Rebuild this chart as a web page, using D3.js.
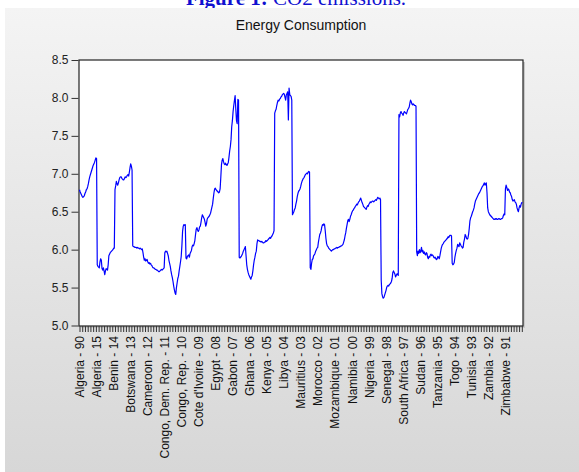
<!DOCTYPE html>
<html>
<head>
<meta charset="utf-8">
<script src="https://cdn.jsdelivr.net/npm/d3@7/dist/d3.min.js"></script>
<style>
  html, body { margin: 0; padding: 0; background: #ffffff; overflow: hidden; }
  svg { display: block; }
</style>
</head>
<body>
<svg id="chart" width="579" height="472"></svg>
<script>
// Panel of energy consumption (log scale), 25 countries x 1990-2015, stacked end to end.
const countries = ["Algeria", "Benin", "Botswana", "Cameroon", "Congo, Dem. Rep.", "Congo, Rep.",
  "Cote d'Ivoire", "Egypt", "Gabon", "Ghana", "Kenya", "Libya", "Mauritius", "Morocco",
  "Mozambique", "Namibia", "Nigeria", "Senegal", "South Africa", "Sudan", "Tanzania", "Togo",
  "Tunisia", "Zambia", "Zimbabwe"];
const years = d3.range(1990, 2016);

const ALGERIA      = [6.79,6.76,6.74,6.72,6.70,6.69,6.70,6.71,6.74,6.76,6.79,6.80,6.83,6.87,6.92,6.96,6.99,7.02,7.05,7.08,7.11,7.13,7.15,7.18,7.21,7.20];
const BENIN        = [5.80,5.78,5.77,5.76,5.84,5.88,5.86,5.75,5.73,5.76,5.72,5.67,5.72,5.75,5.74,5.73,5.80,5.92,5.94,5.96,5.97,5.98,5.99,6.00,6.02,6.02];
const BOTSWANA     = [6.79,6.84,6.90,6.87,6.85,6.88,6.92,6.95,6.96,6.96,6.94,6.93,6.92,6.92,6.94,6.96,6.95,6.96,6.98,6.99,6.97,7.02,7.08,7.13,7.10,7.05];
const CAMEROON     = [6.05,6.04,6.04,6.03,6.03,6.03,6.02,6.03,6.02,6.02,6.01,6.02,6.01,6.00,6.01,5.96,5.90,5.86,5.88,5.85,5.86,5.87,5.84,5.82,5.83,5.81];
const CONGO_DR     = [5.82,5.80,5.79,5.77,5.76,5.76,5.75,5.74,5.74,5.73,5.73,5.72,5.71,5.71,5.72,5.73,5.74,5.73,5.74,5.75,5.76,5.96,5.98,5.97,5.98,5.95];
const CONGO_REP    = [5.92,5.86,5.82,5.78,5.72,5.67,5.63,5.58,5.52,5.47,5.43,5.41,5.50,5.56,5.62,5.65,5.72,5.78,5.84,5.91,6.05,6.24,6.31,6.33,6.32,6.33];
const COTE_DIVOIRE = [5.89,5.88,5.91,5.92,5.93,5.90,5.95,5.97,5.99,6.04,6.06,6.05,6.08,6.12,6.20,6.27,6.29,6.26,6.24,6.26,6.30,6.31,6.36,6.42,6.46,6.44];
const EGYPT        = [6.42,6.40,6.36,6.31,6.34,6.40,6.42,6.43,6.44,6.46,6.48,6.52,6.56,6.60,6.68,6.75,6.80,6.81,6.79,6.78,6.77,6.76,6.75,6.76,6.80,6.95];
const GABON        = [7.12,7.18,7.20,7.16,7.13,7.12,7.14,7.12,7.11,7.13,7.15,7.22,7.30,7.36,7.45,7.62,7.70,7.82,7.90,7.97,8.03,7.85,7.70,7.66,7.98,7.97];
const GHANA        = [5.90,5.89,5.90,5.91,5.93,5.95,5.98,6.00,6.02,6.04,5.92,5.80,5.74,5.70,5.67,5.65,5.63,5.61,5.64,5.66,5.72,5.80,5.86,5.90,5.95,5.98];
const KENYA        = [6.08,6.13,6.12,6.12,6.11,6.11,6.10,6.11,6.10,6.09,6.09,6.10,6.10,6.12,6.11,6.12,6.13,6.14,6.15,6.16,6.15,6.17,6.18,6.20,6.22,6.25];
const LIBYA        = [7.80,7.83,7.85,7.90,7.94,7.97,7.96,7.98,7.99,8.01,8.02,8.04,8.05,8.06,8.05,8.01,7.97,8.04,8.06,8.08,7.71,8.13,8.05,8.03,8.02,7.97];
const MAURITIUS    = [6.46,6.48,6.50,6.53,6.55,6.60,6.64,6.70,6.74,6.77,6.78,6.80,6.83,6.87,6.90,6.92,6.94,6.95,6.97,6.99,7.00,7.01,7.00,7.02,7.03,7.02];
const MOROCCO      = [5.76,5.74,5.82,5.87,5.88,5.92,5.93,5.95,5.98,6.00,6.02,6.03,6.10,6.15,6.20,6.22,6.25,6.30,6.33,6.32,6.34,6.33,6.25,6.15,6.08,6.05];
const MOZAMBIQUE   = [6.04,6.02,6.01,6.00,5.99,5.98,5.99,6.00,6.00,6.01,6.01,6.02,6.02,6.03,6.02,6.03,6.03,6.04,6.04,6.05,6.05,6.06,6.07,6.10,6.13,6.18];
const NAMIBIA      = [6.22,6.28,6.33,6.38,6.40,6.37,6.40,6.44,6.46,6.49,6.51,6.52,6.54,6.55,6.57,6.58,6.60,6.59,6.61,6.63,6.64,6.66,6.68,6.65,6.62,6.60];
const NIGERIA      = [6.57,6.56,6.55,6.54,6.53,6.56,6.58,6.57,6.60,6.61,6.63,6.62,6.63,6.64,6.64,6.63,6.64,6.65,6.66,6.65,6.67,6.69,6.68,6.67,6.68,6.66];
const SENEGAL      = [5.60,5.42,5.38,5.36,5.37,5.40,5.43,5.46,5.50,5.52,5.53,5.52,5.54,5.55,5.56,5.58,5.62,5.70,5.72,5.70,5.68,5.64,5.66,5.68,5.68,5.66];
const SOUTH_AFRICA = [7.78,7.75,7.80,7.82,7.80,7.79,7.77,7.80,7.82,7.81,7.80,7.79,7.82,7.85,7.86,7.88,7.93,7.97,7.95,7.92,7.91,7.92,7.91,7.90,7.90,7.89];
const SUDAN        = [5.97,5.92,5.98,5.95,6.00,5.96,5.98,6.03,5.97,5.99,5.95,5.97,5.94,5.93,5.96,5.95,5.90,5.88,5.91,5.90,5.93,5.94,5.92,5.93,5.92,5.90];
const TANZANIA     = [5.89,5.90,5.88,5.87,5.88,5.91,5.90,5.88,5.92,5.97,6.02,6.05,6.07,6.08,6.10,6.11,6.12,6.13,6.14,6.15,6.17,6.16,6.18,6.19,6.19,6.18];
const TOGO         = [5.82,5.80,5.81,5.83,5.90,5.95,5.99,6.02,6.07,6.05,6.04,6.09,6.07,6.05,6.04,6.02,6.03,6.10,6.14,6.20,6.18,6.15,6.14,6.15,6.20,6.28];
const TUNISIA      = [6.38,6.42,6.44,6.47,6.50,6.52,6.55,6.60,6.64,6.66,6.68,6.70,6.72,6.74,6.75,6.77,6.79,6.81,6.83,6.84,6.86,6.88,6.85,6.87,6.88,6.75];
const ZAMBIA       = [6.55,6.50,6.48,6.46,6.45,6.44,6.43,6.42,6.41,6.40,6.40,6.41,6.40,6.41,6.40,6.40,6.41,6.41,6.40,6.40,6.41,6.41,6.42,6.45,6.47,6.46];
const ZIMBABWE     = [6.80,6.85,6.82,6.78,6.80,6.79,6.76,6.75,6.72,6.70,6.66,6.64,6.65,6.66,6.63,6.62,6.60,6.55,6.52,6.50,6.55,6.58,6.56,6.60,6.62,6.62];

const seriesByCountry = [ALGERIA, BENIN, BOTSWANA, CAMEROON, CONGO_DR, CONGO_REP, COTE_DIVOIRE,
  EGYPT, GABON, GHANA, KENYA, LIBYA, MAURITIUS, MOROCCO, MOZAMBIQUE, NAMIBIA, NIGERIA, SENEGAL,
  SOUTH_AFRICA, SUDAN, TANZANIA, TOGO, TUNISIA, ZAMBIA, ZIMBABWE];

const yTicks = [5.0, 5.5, 6.0, 6.5, 7.0, 7.5, 8.0, 8.5];
const labelStep = 25;   // one labelled observation every 25
const tickStep = 4;     // minor ticks along the bottom edge

// Stacked panel observations: "Country - yy"
const obs = [];
countries.forEach((c, ci) => {
  years.forEach((yr, yi) => {
    obs.push({ i: obs.length, label: c + " - " + String(yr).slice(2), value: seriesByCountry[ci][yi] });
  });
});

const svg = d3.select("#chart");
const W = 579, H = 472;
const frame = { left: 79, right: 523, top: 60, bottom: 326 };

// background panel with a soft vertical gradient
const defs = svg.append("defs");
const grad = defs.append("linearGradient").attr("id", "bg").attr("x1", 0).attr("y1", 0).attr("x2", 0).attr("y2", 1);
grad.append("stop").attr("offset", "0%").attr("stop-color", "#f4f4f4");
grad.append("stop").attr("offset", "100%").attr("stop-color", "#d7d7d7");

// caption above the panel, its upper part runs off the top edge
const cap = svg.append("text")
  .attr("x", 296).attr("y", 5)
  .attr("text-anchor", "middle")
  .attr("font-family", "'Liberation Serif', 'Times New Roman', serif")
  .attr("font-size", 21)
  .attr("fill", "#1010d0");
cap.append("tspan").attr("font-weight", "bold").text("Figure 1:");
cap.append("tspan").text(" CO2 emissions.");

svg.append("rect").attr("x", 5).attr("y", 8).attr("width", W - 5).attr("height", H - 8).attr("fill", "url(#bg)");

// title
svg.append("text")
  .attr("x", (frame.left + frame.right) / 2).attr("y", 30)
  .attr("text-anchor", "middle")
  .attr("font-family", "'Liberation Sans', Arial, sans-serif")
  .attr("font-size", 14)
  .attr("fill", "#111")
  .text("Energy Consumption");

// plot frame with a light drop shadow
svg.append("rect")
  .attr("x", frame.left + 2).attr("y", frame.top + 2)
  .attr("width", frame.right - frame.left).attr("height", frame.bottom - frame.top)
  .attr("fill", "#c8c8c8");
svg.append("rect")
  .attr("x", frame.left).attr("y", frame.top)
  .attr("width", frame.right - frame.left).attr("height", frame.bottom - frame.top)
  .attr("fill", "#ffffff").attr("stroke", "#222").attr("stroke-width", 1.2);

const x = d3.scaleLinear().domain([0, obs.length - 1]).range([frame.left + 0.5, frame.right - 0.5]);
const y = d3.scaleLinear().domain([5, 8.5]).range([frame.bottom - 0.5, frame.top]);

// y axis
const yAxis = d3.axisLeft(y).tickValues(yTicks).tickFormat(d3.format(".1f")).tickSize(7).tickPadding(3);
const gy = svg.append("g").attr("transform", `translate(${frame.left - 0.5},0)`).call(yAxis);
gy.select(".domain").remove();
gy.selectAll("line").attr("stroke", "#333");
gy.selectAll("text").attr("font-family", "'Liberation Sans', Arial, sans-serif").attr("font-size", 12).attr("fill", "#222");

// x axis: minor ticks and rotated labels every 25 observations
const minorTicks = d3.range(0, obs.length, tickStep);
const xAxis = d3.axisBottom(x).tickValues(minorTicks).tickSize(6).tickFormat(() => "");
const gx = svg.append("g").attr("transform", `translate(0,${frame.bottom})`).call(xAxis);
gx.select(".domain").remove();
gx.selectAll("line").attr("stroke", "#333");

const labelled = obs.filter(d => d.i % labelStep === 0);
svg.append("g").selectAll("text").data(labelled).join("text")
  .attr("transform", d => `translate(${x(d.i) + 4},${frame.bottom + 10}) rotate(-90)`)
  .attr("text-anchor", "end")
  .attr("font-family", "'Liberation Sans', Arial, sans-serif")
  .attr("font-size", 12)
  .attr("fill", "#111")
  .text(d => d.label);

// series line
const line = d3.line().x(d => x(d.i)).y(d => y(d.value));
svg.append("path").datum(obs)
  .attr("d", line)
  .attr("fill", "none")
  .attr("stroke", "#0000ff")
  .attr("stroke-width", 1.2)
  .attr("stroke-linejoin", "round");
</script>
</body>
</html>
